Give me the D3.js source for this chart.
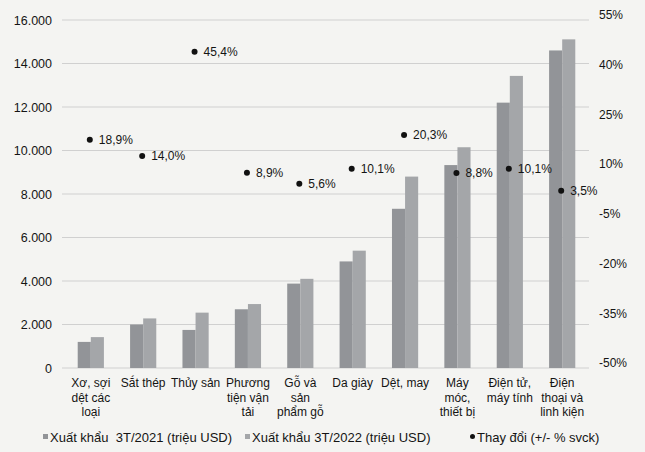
<!DOCTYPE html>
<html><head><meta charset="utf-8">
<script src="https://cdn.jsdelivr.net/npm/d3@7/dist/d3.min.js"></script>
<style>
html,body{margin:0;padding:0;background:#f4f4f2;}
svg{display:block;font-family:"Liberation Sans",Arial,sans-serif;}
</style></head><body>
<svg id="c" width="645" height="452"></svg>
<script>
const categories = [
  ["Xơ, sợi","dệt các","loại"],
  ["Sắt thép"],
  ["Thủy sản"],
  ["Phương","tiện vận","tải"],
  ["Gỗ và","sản","phẩm gỗ"],
  ["Da giày"],
  ["Dệt, may"],
  ["Máy","móc,","thiết bị"],
  ["Điện tử,","máy tính"],
  ["Điện","thoại và","linh kiện"]
];
const export2021 = [1200, 2000, 1750, 2700, 3880, 4900, 7320, 9330, 12200, 14600];
const export2022 = [1420, 2280, 2545, 2940, 4100, 5395, 8800, 10150, 13430, 15110];
const change = [18.9, 14.0, 45.4, 8.9, 5.6, 10.1, 20.3, 8.8, 10.1, 3.5];
const leftTicks = [0, 2000, 4000, 6000, 8000, 10000, 12000, 14000, 16000];
const rightTicks = [-50, -35, -20, -5, 10, 25, 40, 55];
const seriesNames = ["Xuất khẩu  3T/2021 (triệu USD)", "Xuất khẩu 3T/2022 (triệu USD)", "Thay đổi (+/- % svck)"];

const svg = d3.select("#c");
const m = {left: 62, right: 591, gridRight: 589, top: 20, bottom: 368};
const locale = d3.formatLocale({decimal: ",", thousands: ".", grouping: [3], currency: ["", ""]});
const fmtL = locale.format(",.0f");
const fmtP = locale.format(".1f");
const FONT = "Liberation Sans, Arial, sans-serif";

const x = d3.scaleBand().domain(d3.range(categories.length)).range([m.left, m.right]).paddingInner(0.5).paddingOuter(0.3);
const xs = d3.scaleBand().domain([0,1]).range([0, x.bandwidth()]);
const y = d3.scaleLinear().domain([0, 16000]).range([m.bottom, m.top]);
const y2 = d3.scaleLinear().domain([-50, 55]).range([m.bottom, m.top]);

const textColor = "#141414";
const colors = ["#929498", "#a4a6a9"];

// gridlines
svg.append("g").selectAll("line").data(leftTicks).join("line")
  .attr("x1", m.left).attr("x2", m.gridRight)
  .attr("y1", d => y(d)).attr("y2", d => y(d))
  .attr("stroke", "#d0d0d0").attr("stroke-width", 1);

// left axis
const gl = svg.append("g").attr("transform", `translate(${m.left - 8},0)`)
  .call(d3.axisLeft(y).tickValues(leftTicks).tickFormat(fmtL).tickSize(0).tickPadding(2));
gl.select(".domain").remove();
gl.selectAll("text").attr("fill", textColor).attr("font-size", 12.5).attr("font-family", FONT);

// right axis
const gr = svg.append("g").attr("transform", `translate(${m.right + 6},-5)`)
  .call(d3.axisRight(y2).tickValues(rightTicks).tickFormat(d => d + "%").tickSize(0).tickPadding(2));
gr.select(".domain").remove();
gr.selectAll("text").attr("fill", textColor).attr("font-size", 12).attr("font-family", FONT);

// bars
[export2021, export2022].forEach((vals, s) => {
  svg.append("g").selectAll("rect").data(vals).join("rect")
    .attr("x", (d, i) => x(i) + xs(s))
    .attr("width", xs.bandwidth())
    .attr("y", d => y(d))
    .attr("height", d => y(0) - y(d))
    .attr("fill", colors[s]);
});

// category labels
const gx = svg.append("g").attr("transform", `translate(0,${m.bottom})`)
  .call(d3.axisBottom(x).tickSize(0).tickFormat(""));
gx.select(".domain").remove();
gx.selectAll(".tick").each(function(d) {
  const t = d3.select(this).append("text").attr("fill", textColor).attr("font-size", 12)
    .attr("text-anchor", "middle").attr("font-family", FONT);
  categories[d].forEach((line, k) => {
    t.append("tspan").attr("x", 0).attr("y", 19 + k * 14.5).text(line);
  });
});

// change points
const cx = i => x(i) + x.bandwidth() / 2;
svg.append("g").selectAll("circle").data(change).join("circle")
  .attr("cx", (d, i) => cx(i) - 1).attr("cy", d => y2(d)).attr("r", 3)
  .attr("fill", "#111");
svg.append("g").selectAll("text").data(change).join("text")
  .attr("x", (d, i) => cx(i) + 8).attr("y", d => y2(d)).attr("dy", "0.35em")
  .attr("font-size", 12).attr("fill", textColor).attr("font-family", FONT)
  .text(d => fmtP(d) + "%");

// legend
const lg = svg.append("g").attr("transform", "translate(0,437)");
const legX = [43, 245, 470];
seriesNames.forEach((name, i) => {
  const g = lg.append("g").attr("transform", `translate(${legX[i]},0)`);
  if (i < 2) {
    g.append("rect").attr("x", 0).attr("y", -3).attr("width", 5).attr("height", 5).attr("fill", colors[i]);
  } else {
    g.append("circle").attr("cx", 2.5).attr("cy", -0.5).attr("r", 2.5).attr("fill", "#111");
  }
  g.append("text").attr("x", 7).attr("y", 0).attr("dy", "0.35em").style("white-space", "pre")
    .attr("font-size", 13).attr("fill", textColor).attr("font-family", FONT).text(name);
});
</script>
</body></html>
